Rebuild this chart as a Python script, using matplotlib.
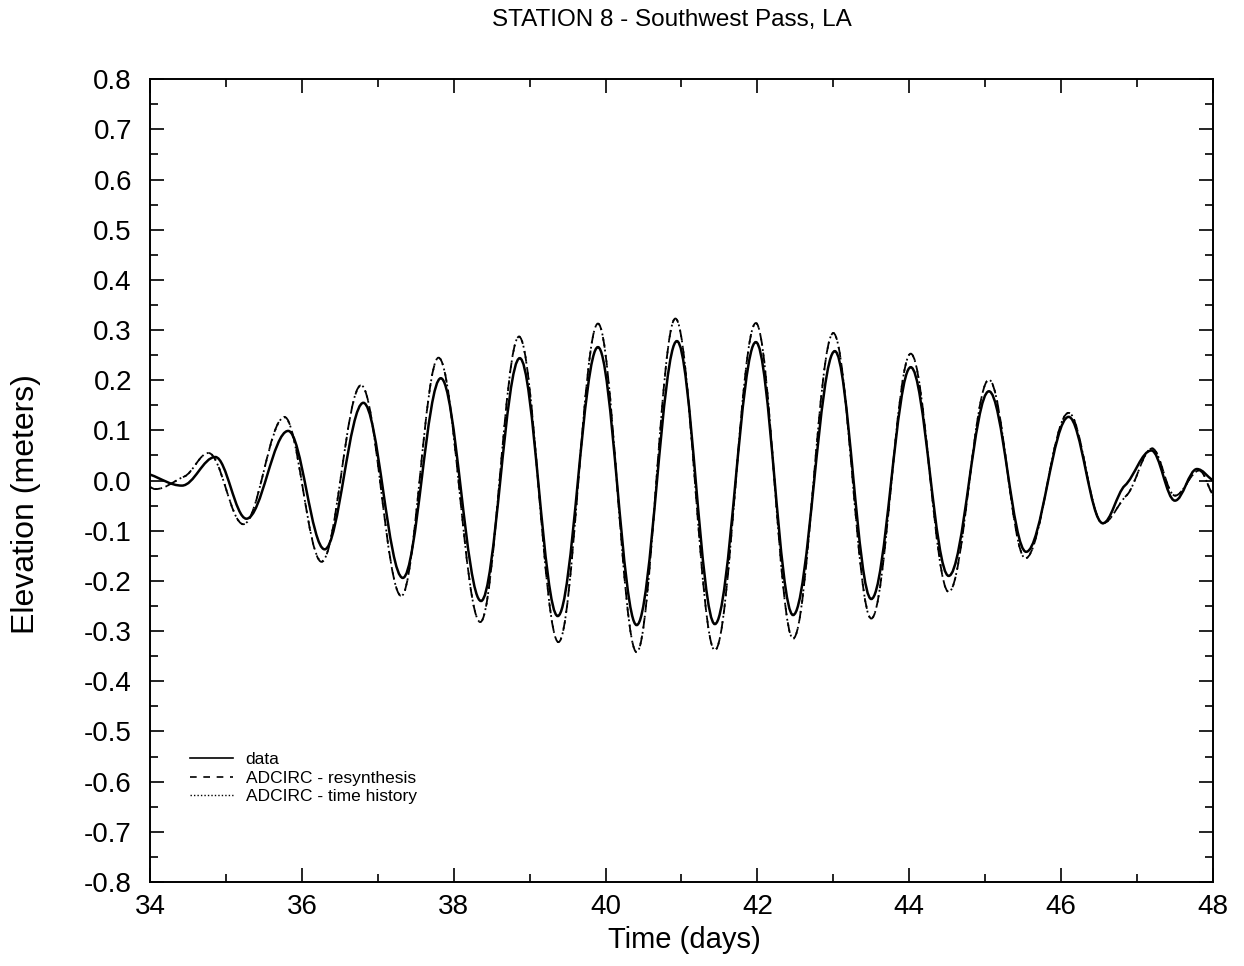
import numpy as np
import matplotlib
matplotlib.use("Agg")
import matplotlib.pyplot as plt
from matplotlib.path import Path
from matplotlib.patches import PathPatch
from matplotlib.lines import Line2D
from matplotlib.ticker import MultipleLocator

plt.rcParams['font.family'] = ['Liberation Sans', 'DejaVu Sans']

# values (turning points of each curve)
data_t = [34.0, 34.42, 34.86, 35.27, 35.82, 36.30, 36.81, 37.33, 37.83, 38.36,
          38.87, 39.37, 39.90, 40.41, 40.94, 41.44, 41.98, 42.47, 43.02, 43.50,
          44.02, 44.52, 45.05, 45.54, 46.10, 46.55, 46.84, 47.19, 47.50, 47.79, 48.0]
data_v = [0.012, -0.010, 0.047, -0.076, 0.099, -0.137, 0.155, -0.194, 0.204, -0.240,
          0.244, -0.270, 0.266, -0.288, 0.278, -0.286, 0.276, -0.268, 0.258, -0.236,
          0.226, -0.190, 0.178, -0.142, 0.127, -0.085, -0.010, 0.060, -0.040, 0.023, 0.0]

resyn_t = [34.0, 34.07, 34.45, 34.77, 35.23, 35.77, 36.26, 36.78, 37.31, 37.80,
           38.35, 38.86, 39.38, 39.90, 40.41, 40.92, 41.44, 41.98, 42.47, 43.00,
           43.50, 44.02, 44.52, 45.05, 45.53, 46.10, 46.55, 46.86, 47.20, 47.50,
           47.82, 48.0]
resyn_v = [-0.013, -0.017, 0.008, 0.055, -0.087, 0.127, -0.162, 0.190, -0.230, 0.245,
           -0.282, 0.287, -0.322, 0.313, -0.342, 0.323, -0.338, 0.314, -0.315, 0.294,
           -0.275, 0.253, -0.222, 0.201, -0.155, 0.135, -0.085, -0.030, 0.064, -0.030,
           0.020, -0.030]

history_t = list(resyn_t)
history_v = [-0.013, -0.017, 0.008, 0.055, -0.087, 0.126, -0.161, 0.190, -0.230, 0.245,
             -0.282, 0.287, -0.322, 0.313, -0.342, 0.323, -0.338, 0.314, -0.315, 0.294,
             -0.275, 0.253, -0.222, 0.201, -0.155, 0.135, -0.085, -0.030, 0.064, -0.030,
             0.020, -0.030]


def smooth_path(t, v):
    # cubic bezier through the read points, flat at turning points
    t = np.asarray(t, float)
    v = np.asarray(v, float)
    n = len(t)
    s = np.zeros(n)
    for i in range(n):
        if i == 0:
            s[i] = (v[1] - v[0]) / (t[1] - t[0])
        elif i == n - 1:
            s[i] = (v[-1] - v[-2]) / (t[-1] - t[-2])
        elif (v[i] - v[i-1]) * (v[i+1] - v[i]) <= 0:
            s[i] = 0.0
        else:
            s[i] = 0.6 * (v[i+1] - v[i-1]) / (t[i+1] - t[i-1])
    a = 0.36
    verts = [(t[0], v[0])]
    codes = [Path.MOVETO]
    for i in range(n - 1):
        dt = t[i+1] - t[i]
        verts += [(t[i] + a*dt, v[i] + s[i]*a*dt),
                  (t[i+1] - a*dt, v[i+1] - s[i+1]*a*dt),
                  (t[i+1], v[i+1])]
        codes += [Path.CURVE4] * 3
    return Path(verts, codes)


fig = plt.figure(figsize=(12.44, 9.66), dpi=100)
ax = fig.add_axes([0.1206, 0.087, 0.8544, 0.831])

ax.add_patch(PathPatch(smooth_path(data_t, data_v), fill=False, color='black', lw=1.8))
ax.add_patch(PathPatch(smooth_path(resyn_t, resyn_v), fill=False, color='black', lw=1.3,
                       linestyle=(0, (6, 4))))
ax.add_patch(PathPatch(smooth_path(history_t, history_v), fill=False, color='black', lw=1.3,
                       linestyle=(0, (1, 2))))

ax.set_xlim(34, 48)
ax.set_ylim(-0.8, 0.8)
ax.xaxis.set_major_locator(MultipleLocator(2))
ax.xaxis.set_minor_locator(MultipleLocator(1))
ax.yaxis.set_major_locator(MultipleLocator(0.1))
ax.yaxis.set_minor_locator(MultipleLocator(0.05))
ax.tick_params(which='both', direction='in', top=True, right=True, width=1.2,
               labelsize=20)
ax.tick_params(which='major', length=10)
ax.tick_params(which='minor', length=6)
ax.tick_params(axis='x', pad=9)
ax.tick_params(axis='y', pad=13)
ax.set_yticklabels(['%.1f' % y for y in ax.get_yticks()])
for sp in ax.spines.values():
    sp.set_linewidth(1.4)

ax.set_xlabel('Time (days)', fontsize=21)
ax.xaxis.set_label_coords(0.503, -0.055)
ax.set_ylabel('Elevation (meters)', fontsize=23)
ax.yaxis.set_label_coords(-0.103, 0.471)
fig.text(0.54, 0.979, 'STATION 8 - Southwest Pass, LA', ha='center', va='center',
         fontsize=17.5)

handles = [Line2D([], [], color='black', lw=1.2),
           Line2D([], [], color='black', lw=1.2, linestyle=(0, (4, 4))),
           Line2D([], [], color='black', lw=1.0, linestyle=(0, (1, 1.5)))]
labels = ['data', 'ADCIRC - resynthesis', 'ADCIRC - time history']
ax.legend(handles, labels, loc='upper left', bbox_to_anchor=(0.0376, 0.162),
          borderaxespad=0, borderpad=0, frameon=False, fontsize=12.5,
          handlelength=2.5, handletextpad=0.7, labelspacing=0.2)

fig.savefig('out.png', dpi=100)
